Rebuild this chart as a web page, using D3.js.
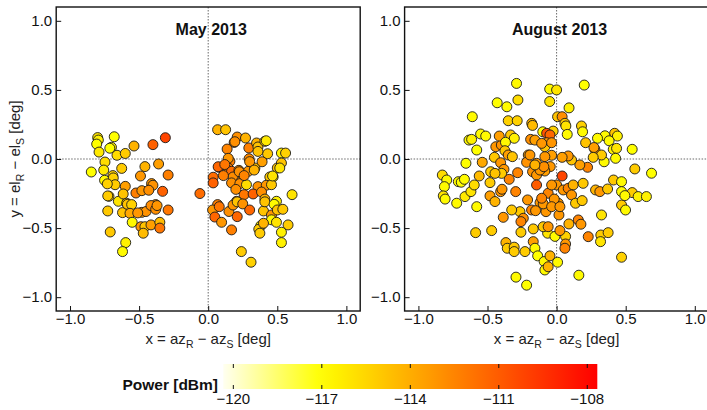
<!DOCTYPE html>
<html><head><meta charset="utf-8">
<script src="https://cdn.jsdelivr.net/npm/d3@7"></script>
<style>
html,body{margin:0;padding:0;background:#fff;}
svg{display:block;font-family:"Liberation Sans",Arial,Helvetica,sans-serif;}
</style></head>
<body>
<svg id="chart" width="707" height="410"></svg>
<script>
// ---- data: [x (deg), y (deg), power (dBm)] ----
const mayData = [
[-0.80,0.155,-116],[-0.795,0.137,-116.5],[-0.807,0.108,-117],[-0.68,0.161,-117],[-0.70,0.085,-116.5],
[-0.712,0.078,-117],[-0.79,0.05,-116.2],[-0.66,0.027,-115.7],[-0.60,0.04,-115.1],[-0.537,0.094,-114.2],
[-0.40,0.104,-111.2],[-0.31,0.154,-110.2],[-0.846,-0.094,-117],[-0.747,-0.022,-115.7],[-0.756,-0.08,-116.2],
[-0.69,-0.12,-115.3],[-0.626,-0.068,-115.1],[-0.458,-0.055,-114.2],[-0.359,-0.036,-113.5],[-0.49,-0.123,-113.2],
[-0.29,-0.116,-112.3],[-0.75,-0.154,-116.8],[-0.687,-0.137,-115.3],[-0.674,-0.186,-115.1],[-0.73,-0.18,-115.3],
[-0.60,-0.198,-113.5],[-0.41,-0.178,-113.2],[-0.40,-0.19,-113.0],[-0.718,-0.27,-115.3],[-0.65,-0.306,-116],
[-0.615,-0.253,-114.8],[-0.523,-0.246,-112.3],[-0.48,-0.229,-113.2],[-0.43,-0.226,-112.9],[-0.33,-0.234,-111.2],
[-0.59,-0.32,-114.8],[-0.38,-0.33,-113.2],[-0.727,-0.376,-115.0],[-0.62,-0.388,-114.8],[-0.585,-0.328,-114.8],
[-0.554,-0.33,-115.3],[-0.566,-0.393,-113.8],[-0.55,-0.458,-116.8],[-0.48,-0.386,-113.2],[-0.45,-0.38,-113.0],
[-0.414,-0.337,-112.8],[-0.38,-0.364,-112.9],[-0.37,-0.337,-113.1],[-0.29,-0.369,-112.0],[-0.487,-0.49,-113.2],
[-0.458,-0.49,-114.8],[-0.47,-0.537,-114.5],[-0.414,-0.477,-113.5],[-0.35,-0.458,-114.5],[-0.35,-0.50,-112.0],
[-0.709,-0.528,-115.0],[-0.597,-0.605,-116.5],[-0.62,-0.67,-116.8],[-0.727,-0.267,-115.1],[-0.51,-0.39,-113.2],
[-0.06,-0.25,-111.6],
[0.068,0.212,-114.2],[0.126,0.212,-114.8],[0.21,0.159,-112.9],[0.27,0.152,-114.2],[0.188,0.12,-112.7],
[0.137,0.072,-112.5],[0.294,0.08,-112.3],[0.35,0.116,-114.2],[0.36,0.087,-114.8],[0.41,0.128,-115.0],
[0.42,0.132,-116.2],[0.43,0.038,-115.0],[0.53,0.043,-116.5],[0.56,0.043,-115.3],[0.36,0.055,-114.8],
[0.296,0.002,-112.7],[0.157,-0.017,-112.3],[0.077,-0.06,-111.2],[0.145,-0.065,-112.3],[0.169,-0.089,-111.6],
[0.222,-0.082,-112.8],[0.29,-0.089,-113.2],[0.338,-0.065,-114.8],[0.50,-0.065,-114.8],[0.53,-0.029,-114.8],
[0.518,-0.065,-116],[0.47,-0.13,-116.5],[0.446,-0.13,-115.0],[0.18,-0.13,-112.8],[0.24,-0.16,-112.9],
[0.036,-0.132,-111.6],[0.036,-0.173,-111.2],[0.169,-0.173,-112.9],[0.229,-0.178,-112.9],[0.277,-0.186,-115.7],
[0.36,-0.20,-113.0],[0.42,-0.19,-113.2],[0.458,-0.186,-115.0],[0.607,-0.258,-116],[0.26,-0.258,-112.0],
[0.325,-0.253,-111.2],[0.386,-0.239,-112.9],[0.41,-0.29,-114.2],[0.494,-0.306,-116.5],[0.205,-0.306,-112.9],
[0.068,-0.33,-112.3],[0.032,-0.369,-113.2],[0.08,-0.345,-112.0],[0.048,-0.42,-111.4],[0.097,-0.458,-113.2],
[0.15,-0.38,-112.9],[0.18,-0.333,-113.1],[0.21,-0.417,-111.4],[0.21,-0.31,-114.8],[0.25,-0.325,-113.0],
[0.30,-0.369,-111.4],[0.40,-0.376,-114.8],[0.41,-0.31,-114.8],[0.477,-0.328,-116.8],[0.458,-0.405,-113.2],
[0.5,-0.369,-114.8],[0.54,-0.364,-115.0],[0.458,-0.44,-116.8],[0.494,-0.458,-116],[0.578,-0.477,-115.1],
[0.53,-0.53,-116.5],[0.53,-0.605,-116.5],[0.169,-0.513,-112.3],[0.38,-0.484,-116.8],[0.366,-0.508,-115.1],
[0.374,-0.537,-115.1],[0.40,-0.465,-114.2],[0.24,-0.67,-115.1],[0.31,-0.747,-115.3],[0.072,-0.056,-111.4],
[0.145,0.005,-113.2],[0.193,0.125,-112.9],[0.30,-0.019,-113.2],[0.333,-0.08,-114.2],[0.225,-0.092,-112.9],
[0.466,-0.123,-116],[0.12,-0.04,-112.0],[0.26,-0.12,-112.5],[0.11,-0.12,-112.3],[0.39,-0.02,-113.5],[0.20,-0.22,-112.9]
];
const augustData = [
[-0.29,0.547,-116.8],[-0.05,0.506,-116.8],[0.0,0.50,-116],[0.20,0.535,-117],[-0.43,0.407,-117],
[-0.36,0.378,-116.8],[-0.28,0.427,-115.7],[-0.05,0.416,-116],[0.09,0.37,-116.5],[-0.61,0.306,-116.8],
[-0.35,0.277,-115.3],[-0.285,0.277,-115.3],[0.007,0.306,-114.8],[0.04,0.306,-112.9],[0.06,0.258,-115.1],
[0.067,0.239,-116],[-0.18,0.258,-114.2],[-0.174,0.243,-114.5],[0.18,0.239,-115.3],[0.188,0.197,-116.8],
[-0.10,0.197,-116.8],[-0.025,0.202,-115.3],[0.077,0.178,-116.8],[-0.072,0.186,-110.7],[-0.048,0.174,-111.4],
[0.42,0.186,-114.8],[0.44,0.166,-116.5],[0.35,0.168,-116.8],[0.296,0.15,-116.8],[0.38,0.132,-116.8],
[0.21,0.118,-114.8],[0.277,0.07,-112.5],[0.27,0.083,-113.5],[0.41,0.07,-116.5],[0.434,0.077,-116],
[0.427,0.005,-116.8],[0.547,0.07,-117],[0.566,-0.072,-115.1],[0.687,-0.103,-117],[0.344,-0.02,-116.8],
[0.325,0.029,-115.1],[0.265,0.012,-115.1],[0.224,-0.06,-112.5],[0.168,-0.043,-113.5],[0.108,-0.007,-114.8],
[0.084,0.022,-113.2],[0.04,0.012,-113.5],[-0.036,0.027,-113.5],[-0.085,0.017,-113.2],[-0.205,0.029,-113.5],
[-0.145,-0.031,-113.1],[-0.217,-0.024,-113.0],[-0.046,-0.055,-113.2],[-0.085,-0.087,-113.5],[-0.174,-0.092,-113.0],
[-0.145,-0.116,-113.2],[0.04,-0.123,-110.2],[-0.188,0.142,-112.9],[-0.157,0.137,-113.5],[-0.072,0.118,-113.1],
[-0.085,0.089,-114.8],[-0.108,0.113,-113.2],[-0.036,0.118,-113.1],[-0.44,0.089,-113.2],[-0.40,0.101,-113.0],
[-0.415,0.166,-113.5],[-0.333,0.174,-115.0],[-0.306,0.15,-116.5],[-0.37,0.121,-116.8],[-0.374,0.06,-115.0],
[-0.35,0.029,-113.5],[-0.32,0.017,-114.8],[-0.45,0.012,-115.0],[-0.405,-0.027,-113.2],[-0.381,-0.075,-113.2],
[-0.538,-0.024,-113.8],[-0.656,-0.031,-117],[-0.578,0.065,-117],[-0.634,0.137,-116.8],[-0.615,0.142,-116.5],
[-0.55,0.181,-116.8],[-0.513,0.166,-116.8],[-0.193,0.029,-113.2],[-0.12,-0.08,-113.2],[-0.092,-0.056,-112.9],
[-0.827,-0.116,-115.7],[-0.795,-0.152,-116.8],[-0.812,-0.2,-116.8],[-0.82,-0.267,-116],[-0.807,-0.29,-116.8],
[-0.711,-0.164,-116.8],[-0.69,-0.168,-117],[-0.723,-0.32,-116.8],[-0.663,-0.272,-116.2],[-0.62,-0.236,-116],
[-0.596,-0.188,-115.7],[-0.56,-0.123,-114.5],[-0.578,-0.345,-116.8],[-0.586,-0.533,-115.1],[-0.47,-0.518,-115.1],
[-0.482,-0.171,-115.1],[-0.482,-0.267,-113.5],[-0.446,-0.308,-114.2],[-0.405,-0.236,-113.2],[-0.398,-0.104,-115.1],
[-0.343,-0.147,-112.5],[-0.296,-0.236,-112.5],[-0.21,-0.296,-113.2],[-0.265,-0.381,-115.0],[-0.325,-0.369,-115.0],
[-0.386,-0.422,-113.2],[-0.241,-0.429,-112.9],[-0.258,-0.453,-112.5],[-0.181,-0.369,-112.5],[-0.145,-0.188,-111.0],
[-0.108,-0.32,-112.5],[-0.061,-0.248,-112.5],[-0.077,-0.381,-113.2],[0.012,-0.32,-113.2],[0.0,-0.188,-113.2],
[0.048,-0.224,-113.2],[0.084,-0.212,-112.5],[0.12,-0.188,-114.2],[0.108,-0.26,-113.2],[0.137,-0.32,-115.0],
[0.185,-0.301,-115.0],[0.017,-0.405,-113.2],[-0.169,-0.506,-115.0],[-0.065,-0.537,-116],[-0.097,-0.49,-115.0],
[-0.012,-0.56,-116.8],[0.065,-0.56,-115.3],[0.089,-0.47,-114.2],[0.157,-0.441,-112.5],[0.176,-0.472,-113.2],
[0.229,-0.562,-112.5],[0.325,-0.405,-116],[0.32,-0.55,-115.1],[0.373,-0.533,-115.1],[0.318,-0.598,-116],
[0.282,-0.224,-114.2],[0.313,-0.236,-113.2],[0.369,-0.217,-115.0],[0.412,-0.152,-115.0],[0.47,-0.164,-116.8],
[0.47,-0.236,-116.8],[0.47,-0.333,-115.1],[0.499,-0.369,-116.8],[0.547,-0.243,-115.1],[0.59,-0.272,-116.5],
[0.65,-0.272,-116.5],[0.47,-0.711,-115.3],[0.161,-0.841,-116.8],[-0.294,-0.855,-116.8],[-0.217,-0.913,-117],
[-0.367,-0.605,-114.2],[-0.357,-0.646,-115.1],[-0.307,-0.638,-115.0],[-0.307,-0.67,-115.1],[-0.229,-0.67,-115.1],
[-0.169,-0.598,-113.5],[-0.157,-0.646,-116.8],[-0.137,-0.701,-117],[-0.09,-0.742,-116.8],[-0.085,-0.803,-116.8],
[-0.048,-0.701,-114.2],[0.007,-0.747,-116.8],[0.065,-0.615,-113.2],[0.06,-0.646,-112.5],[-0.258,-0.53,-115.1],
[-0.395,-0.219,-113.2],[-0.036,-0.188,-113.2],[-0.12,-0.316,-113.2],[-0.097,-0.325,-113.2],[-0.108,-0.284,-112.5],
[-0.017,-0.29,-113.2],[-0.036,-0.345,-113.2],[-0.152,-0.374,-113.2],[-0.061,-0.49,-113.2],[-0.061,-0.78,-114.2],
[0.192,-0.176,-115.0],[0.024,-0.345,-113.2],[0.494,-0.265,-116.8],[0.024,-0.518,-113.2],[-0.477,-0.092,-115.1],
[-0.446,-0.104,-114.8],[-0.282,-0.099,-112.5],[-0.157,-0.043,-114.2],[-0.667,-0.147,-116.8]
];
const axisTicks = [-1.0, -0.5, 0.0, 0.5, 1.0];
const panelTitles = ["May 2013", "August 2013"];
const powerTicks = [-120, -117, -114, -111, -108];
const powerDomain = [-120.34, -107.66];

// ---- drawing ----
const svg = d3.select("#chart");
const fmt = v => (v < 0 ? "\u2212" : "") + Math.abs(v).toFixed(1);
const color = d3.scaleLinear()
  .domain([powerDomain[0], -117, powerDomain[1]])
  .range(["#fffff0", "#ffff00", "#ff0000"]);

const plotTop = 7, plotSize = 304;
const panels = [
  {left: 56.2, data: mayData, title: panelTitles[0]},
  {left: 404.6, data: augustData, title: panelTitles[1]}
];

panels.forEach((p, i) => {
  const x = d3.scaleLinear().domain([-1.1, 1.1]).range([p.left, p.left + plotSize]);
  const y = d3.scaleLinear().domain([-1.1, 1.1]).range([plotTop + plotSize, plotTop]);
  const g = svg.append("g");

  // zero reference lines
  g.append("line").attr("x1", x(0)).attr("x2", x(0)).attr("y1", plotTop).attr("y2", plotTop + plotSize)
    .attr("stroke", "#444").attr("stroke-width", 0.8).attr("stroke-dasharray", "1.5,1.5");
  g.append("line").attr("y1", y(0)).attr("y2", y(0)).attr("x1", p.left).attr("x2", p.left + plotSize)
    .attr("stroke", "#444").attr("stroke-width", 0.8).attr("stroke-dasharray", "1.5,1.5");

  // points
  g.selectAll("circle.pt").data(p.data).join("circle").attr("class", "pt")
    .attr("cx", d => x(d[0])).attr("cy", d => y(d[1])).attr("r", 5)
    .attr("fill", d => color(d[2])).attr("stroke", "#1a1a1a").attr("stroke-width", 0.9);

  // axes (inward ticks)
  const xa = g.append("g").attr("transform", `translate(0,${plotTop + plotSize})`)
    .call(d3.axisBottom(x).tickValues(axisTicks).tickFormat(fmt).tickSizeInner(-5).tickSizeOuter(0).tickPadding(2));
  const ya = g.append("g").attr("transform", `translate(${p.left},0)`)
    .call(d3.axisLeft(y).tickValues(axisTicks).tickFormat(fmt).tickSizeInner(-5).tickSizeOuter(0).tickPadding(4));
  [xa, ya].forEach(a => {
    a.select(".domain").remove();
    a.selectAll("line").attr("stroke", "#111").attr("stroke-width", 1);
    a.selectAll("text").attr("font-size", 15).attr("fill", "#111").attr("font-family", null);
  });
  xa.selectAll("text").attr("dy", "0.72em");

  // frame
  g.append("rect").attr("x", p.left).attr("y", plotTop).attr("width", plotSize).attr("height", plotSize)
    .attr("fill", "none").attr("stroke", "#111").attr("stroke-width", 1.4);

  // title
  g.append("text").attr("x", x(0) + 3).attr("y", 35).attr("text-anchor", "middle")
    .attr("font-size", 16).attr("font-weight", "bold").attr("fill", "#111").text(p.title);

  // x label
  const xl = g.append("text").attr("x", x(0)).attr("y", 344).attr("text-anchor", "middle")
    .attr("font-size", 15).attr("fill", "#222");
  xl.append("tspan").text("x = az");
  xl.append("tspan").attr("font-size", 10.5).attr("dy", 4).text("R");
  xl.append("tspan").attr("dy", -4).text(" \u2212 az");
  xl.append("tspan").attr("font-size", 10.5).attr("dy", 4).text("S");
  xl.append("tspan").attr("dy", -4).text(" [deg]");

  if (i === 0) {
    const yl = g.append("text").attr("transform", `translate(20,${y(0)}) rotate(-90)`)
      .attr("text-anchor", "middle").attr("font-size", 15).attr("fill", "#222");
    yl.append("tspan").text("y = el");
    yl.append("tspan").attr("font-size", 10.5).attr("dy", 4).text("R");
    yl.append("tspan").attr("dy", -4).text(" \u2212 el");
    yl.append("tspan").attr("font-size", 10.5).attr("dy", 4).text("S");
    yl.append("tspan").attr("dy", -4).text(" [deg]");
  }
});

// ---- colour bar ----
const cb = {x0: 223.3, x1: 597.3, y0: 364, y1: 389};
const cx = d3.scaleLinear().domain(powerDomain).range([cb.x0, cb.x1]);
const defs = svg.append("defs");
const grad = defs.append("linearGradient").attr("id", "cbgrad").attr("x1", "0%").attr("x2", "100%");
d3.range(0, 1.0001, 0.05).forEach(t => {
  const v = powerDomain[0] + t * (powerDomain[1] - powerDomain[0]);
  grad.append("stop").attr("offset", (t * 100) + "%").attr("stop-color", color(v));
});
svg.append("rect").attr("x", cb.x0).attr("y", cb.y0).attr("width", cb.x1 - cb.x0).attr("height", cb.y1 - cb.y0)
  .attr("fill", "url(#cbgrad)");
const cbg = svg.append("g");
powerTicks.forEach(v => {
  cbg.append("line").attr("x1", cx(v)).attr("x2", cx(v)).attr("y1", cb.y0).attr("y2", cb.y0 + 4)
    .attr("stroke", "#111").attr("stroke-width", 1);
  cbg.append("line").attr("x1", cx(v)).attr("x2", cx(v)).attr("y1", cb.y1 - 4).attr("y2", cb.y1)
    .attr("stroke", "#111").attr("stroke-width", 1);
  cbg.append("text").attr("x", cx(v)).attr("y", 404).attr("text-anchor", "middle")
    .attr("font-size", 15).attr("fill", "#111").text("\u2212" + Math.abs(v));
});
svg.append("text").attr("x", 218).attr("y", 390).attr("text-anchor", "end")
  .attr("font-size", 15.5).attr("font-weight", "bold").attr("fill", "#111").text("Power [dBm]");
</script>
</body></html>
